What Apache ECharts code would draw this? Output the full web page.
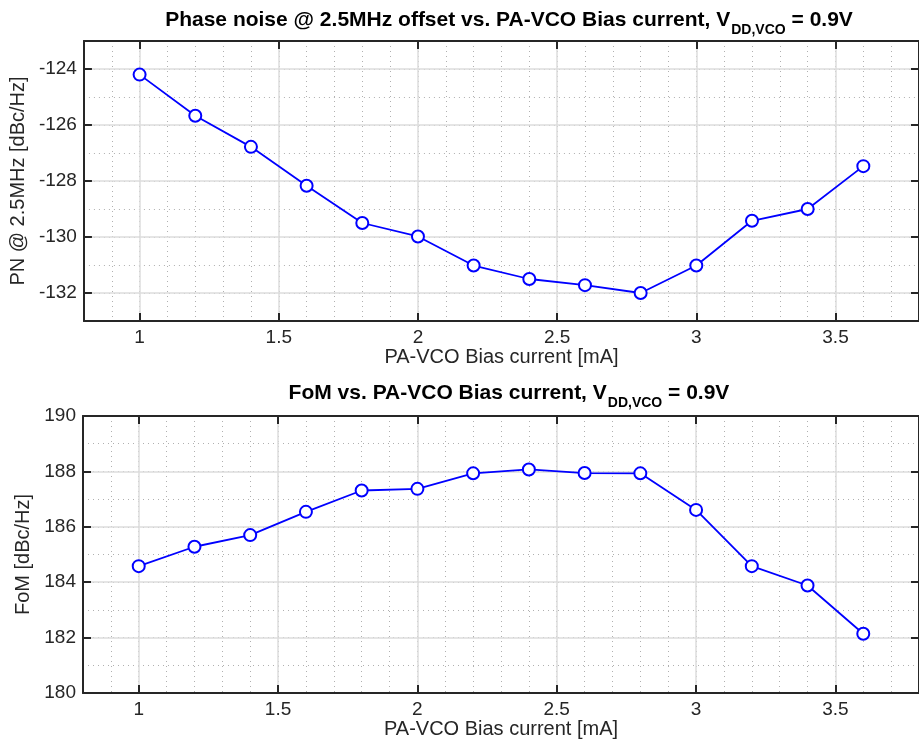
<!DOCTYPE html>
<html>
<head>
<meta charset="utf-8">
<script src="https://cdn.jsdelivr.net/npm/echarts@6/dist/echarts.min.js"></script>
<style>
  html, body { margin: 0; padding: 0; background: #fff; }
  #main { width: 919px; height: 745px; }
</style>
</head>
<body>
<div id="main"></div>
<script>
// 数据
const current = [1.0, 1.2, 1.4, 1.6, 1.8, 2.0, 2.2, 2.4, 2.6, 2.8, 3.0, 3.2, 3.4, 3.6];
const pnValues = [-124.2, -125.67, -126.78, -128.17, -129.5, -129.98, -131.02, -131.5, -131.72, -132.0, -131.02, -129.42, -129.0, -127.47];
const fomValues = [184.58, 185.28, 185.7, 186.54, 187.31, 187.37, 187.93, 188.07, 187.94, 187.93, 186.61, 184.58, 183.88, 182.14];
const xTicks = [1, 1.5, 2, 2.5, 3, 3.5];
const pnTicks = [-132, -130, -128, -126, -124];
const fomTicks = [180, 182, 184, 186, 188, 190];

const font = 'Liberation Sans, Arial, Helvetica, sans-serif';
const axisColor = '#262626';

function toPairs(xs, ys) {
    let out = [];
    for (let i = 0; i < xs.length; i++) out.push([xs[i], ys[i]]);
    return out;
}

// 主轴（带标签）
function majorX(g, pos, withLabel) {
    return {
        gridIndex: g, type: 'value', position: pos, min: 0.8, max: 3.8, z: 3,
        name: withLabel ? 'PA-VCO Bias current [mA]' : '',
        nameLocation: 'middle', nameGap: 24,
        nameTextStyle: { fontFamily: font, fontSize: 20, color: axisColor },
        axisLine: { show: true, onZero: false, lineStyle: { color: axisColor, width: 2 } },
        axisTick: { show: true, inside: true, length: 8, customValues: xTicks, lineStyle: { color: axisColor, width: 2 } },
        axisLabel: { show: withLabel, customValues: xTicks, fontFamily: font, fontSize: 19, color: axisColor, margin: 7 },
        splitLine: { show: withLabel, lineStyle: { color: '#dcdcdc', width: 1.5 } }
    };
}
function minorX(g) {
    return {
        gridIndex: g, type: 'value', position: 'bottom', min: 0.8, max: 3.8, interval: 0.1, z: 1,
        axisLine: { show: false }, axisTick: { show: false }, axisLabel: { show: false },
        splitLine: { show: true, lineStyle: { color: '#b0b0b0', width: 1, type: [1, 4] } }
    };
}
function majorY(g, pos, min, max, ticks, name, gap) {
    let withLabel = pos === 'left';
    return {
        gridIndex: g, type: 'value', position: pos, min: min, max: max, z: 3,
        name: withLabel ? name : '',
        nameLocation: 'middle', nameGap: gap,
        nameTextStyle: { fontFamily: font, fontSize: 20, color: axisColor },
        axisLine: { show: true, onZero: false, lineStyle: { color: axisColor, width: 2 } },
        axisTick: { show: true, inside: true, length: 8, customValues: ticks, lineStyle: { color: axisColor, width: 2 } },
        axisLabel: { show: withLabel, customValues: ticks, fontFamily: font, fontSize: 19, color: axisColor, margin: 7 },
        splitLine: { show: withLabel, lineStyle: { color: '#dcdcdc', width: 1.5 } }
    };
}
function minorY(g, min, max) {
    return {
        gridIndex: g, type: 'value', position: 'left', min: min, max: max, interval: 1, z: 1,
        axisLine: { show: false }, axisTick: { show: false }, axisLabel: { show: false },
        splitLine: { show: true, lineStyle: { color: '#b0b0b0', width: 1, type: [1, 4] } }
    };
}
function titleOf(top, main) {
    return {
        left: 504, top: top, textAlign: 'center',
        text: '{m|' + main + '}{s|DD,VCO}{m| = 0.9V}',
        textStyle: {
            rich: {
                m: { fontFamily: font, fontSize: 21, fontWeight: 'bold', color: '#000', lineHeight: 24, verticalAlign: 'top' },
                s: { fontFamily: font, fontSize: 14, fontWeight: 'bold', color: '#000', lineHeight: 24, verticalAlign: 'top', padding: [13, 0, 0, 1] }
            }
        }
    };
}
function lineSeries(xi, yi, values) {
    return {
        type: 'line', xAxisIndex: xi, yAxisIndex: yi, z: 5,
        data: toPairs(current, values),
        symbol: 'emptyCircle', symbolSize: 12,
        lineStyle: { color: '#0000ff', width: 1.8 },
        itemStyle: { color: '#0000ff', borderWidth: 1.8 }
    };
}

let chart = echarts.init(document.getElementById('main'));
chart.setOption({
    animation: false,
    backgroundColor: '#fff',
    title: [
        titleOf(5, 'Phase noise @ 2.5MHz offset vs. PA-VCO Bias current, V'),
        titleOf(378, 'FoM vs. PA-VCO Bias current, V')
    ],
    grid: [
        { left: 83, right: -6, top: 41, height: 280 },
        { left: 83, right: -6, top: 416, height: 277 }
    ],
    xAxis: [
        majorX(0, 'bottom', true), majorX(0, 'top', false), minorX(0),
        majorX(1, 'bottom', true), majorX(1, 'top', false), minorX(1)
    ],
    yAxis: [
        majorY(0, 'left', -133, -123, pnTicks, 'PN @ 2.5MHz [dBc/Hz]', 47),
        majorY(0, 'right', -133, -123, pnTicks, '', 0),
        minorY(0, -133, -123),
        majorY(1, 'left', 180, 190, fomTicks, 'FoM [dBc/Hz]', 41),
        majorY(1, 'right', 180, 190, fomTicks, '', 0),
        minorY(1, 180, 190)
    ],
    series: [
        lineSeries(0, 0, pnValues),
        lineSeries(3, 3, fomValues)
    ]
});
</script>
</body>
</html>
